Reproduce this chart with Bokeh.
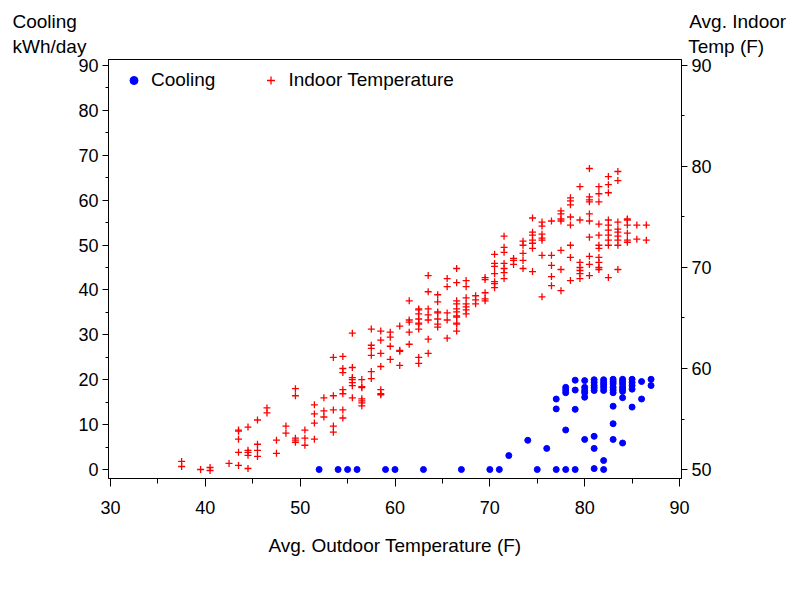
from bokeh.plotting import figure
from bokeh.models import (Range1d, LinearAxis, SingleIntervalTicker,
                          Legend, LegendItem)
from bokeh.embed import file_html
from bokeh.resources import INLINE

# ---------------- data ----------------
# Cooling (kWh/day) vs outdoor temperature (F)
cool_x = [52, 54, 55, 56, 59, 60, 63, 67, 70, 71, 75, 77, 78, 79, 81, 82,
          72, 74, 76,
          77, 77,
          78, 78, 78, 78,
          79, 79, 79,
          80, 80, 80, 80, 80, 80,
          81, 81, 81, 81, 81, 81, 81,
          82, 82, 82, 82, 82, 82,
          83, 83, 83, 83, 83, 83, 83, 83, 83,
          84, 84, 84, 84, 84, 84, 84, 84,
          85, 85, 85, 85, 85,
          86, 86,
          87, 87]
cool_kwh = [0, 0, 0, 0, 0, 0, 0, 0, 0, 0, 0, 0, 0, 0, 0.2, 0,
            3.1, 6.5, 4.7,
            15.7, 13.5,
            18.3, 17.7, 17.1, 8.8,
            19.9, 17.7, 13.4,
            19.8, 18.3, 17.6, 17.1, 16.1, 6.7,
            20.0, 19.4, 18.7, 18.2, 17.6, 7.4, 4.7,
            20.0, 19.4, 18.9, 18.3, 17.6, 2.0,
            20.1, 19.6, 19.1, 18.3, 17.7, 17.1, 14.1, 10.2, 6.7,
            20.1, 19.6, 19.1, 18.4, 17.9, 17.4, 16.0, 5.9,
            20.1, 19.4, 18.7, 17.9, 13.9,
            19.6, 15.7,
            20.1, 18.7]

# Average indoor temperature (F) vs outdoor temperature (F)
indoor_groups = {
    37.5: [50.8, 50.3],
    39.5: [50.0],
    40.5: [50.2, 49.9],
    42.5: [50.6],
    43.5: [53.9, 53.8, 53.0, 51.7, 50.4],
    44.5: [54.2, 51.9, 51.7, 51.4, 50.1],
    45.5: [54.9, 52.5, 51.9, 51.3],
    46.5: [56.1, 55.6],
    47.5: [52.9, 51.6],
    48.5: [54.3, 53.6],
    49.5: [58.0, 57.3, 53.1, 52.9, 52.7],
    50.5: [53.9, 53.1, 52.4],
    51.5: [56.4, 55.5, 54.6, 53.0],
    52.5: [57.1, 55.8, 55.2],
    53.5: [61.1, 57.3, 55.9, 54.3, 53.7],
    54.5: [61.2, 60.0, 59.6, 57.9, 57.5, 55.9, 55.1],
    55.5: [63.5, 60.1, 59.1, 58.9, 58.6, 58.3, 57.1],
    56.5: [58.9, 58.2, 58.1, 57.0, 56.8, 56.6, 56.3],
    57.5: [63.9, 62.3, 62.0, 61.3, 59.7, 59.0],
    58.5: [63.7, 62.8, 61.5, 60.2, 57.9, 57.5, 57.4],
    59.5: [63.6, 63.1, 62.2, 60.9],
    60.5: [64.2, 61.8, 61.7, 60.3],
    61.5: [66.7, 64.8, 64.6, 63.6, 62.4],
    62.5: [65.9, 65.8, 65.4, 64.9, 64.5, 64.4, 63.9, 61.1, 60.5],
    63.5: [69.2, 67.6, 65.9, 65.3, 64.8, 62.9, 61.5],
    64.5: [67.3, 66.6, 65.6, 65.5, 64.9, 64.4, 64.1],
    65.5: [68.9, 68.1, 65.5, 64.8, 63.0],
    66.5: [69.9, 68.5, 66.7, 66.4, 65.9, 65.6, 65.2, 65.1, 64.5, 64.4, 63.7],
    67.5: [68.7, 68.1, 67.0, 66.4, 66.1, 65.8, 65.4],
    68.5: [67.2, 66.8, 66.4],
    69.5: [69.0, 68.8, 67.5, 66.9, 66.7],
    70.5: [71.3, 70.4, 70.1, 69.4, 68.6, 68.4, 68.0],
    71.5: [73.1, 72.0, 71.5, 70.4, 69.9, 69.5, 68.9],
    72.5: [70.9, 70.7, 70.3],
    73.5: [72.6, 72.2, 71.4, 70.7, 69.9],
    74.5: [74.9, 73.5, 73.2, 72.7, 72.4, 71.9, 69.6],
    75.5: [74.5, 74.1, 73.3, 72.9, 72.7, 71.2, 67.1],
    76.5: [74.6, 71.2, 70.2, 69.1, 68.2],
    77.5: [75.6, 75.3, 74.8, 74.6, 71.7, 69.8, 67.7],
    78.5: [76.9, 76.6, 76.2, 75.0, 74.2, 72.2, 71.0, 68.7],
    79.5: [78.0, 74.7, 70.5, 70.0, 69.7, 69.4, 68.9],
    80.5: [79.8, 77.0, 76.7, 76.5, 75.3, 74.6, 73.0, 71.1, 70.3, 69.2],
    81.5: [78.0, 77.3, 76.5, 74.3, 73.2, 72.2, 71.9, 71.0, 70.5, 70.0, 69.8],
    82.5: [79.0, 78.2, 77.4, 74.7, 74.2, 73.7, 73.2, 72.7, 72.2, 69.0],
    83.5: [79.5, 78.6, 74.5, 73.8, 73.5, 73.1, 72.7, 72.2, 69.8],
    84.5: [74.8, 74.7, 74.2, 73.4, 72.7, 72.5],
    85.5: [74.2, 72.8],
    86.5: [74.2, 72.7],
}
indoor_x = [k for k, vals in indoor_groups.items() for _ in vals]
indoor_temp = [v for vals in indoor_groups.values() for v in vals]

x_title = "Avg. Outdoor Temperature (F)"
left_title = ["Cooling", "kWh/day"]
right_title = ["Avg. Indoor", "Temp (F)"]
legend_labels = ["Cooling", "Indoor Temperature"]

FONT = "Liberation Sans"

# ---------------- main figure ----------------
p = figure(width=788, height=596, output_backend="svg", toolbar_location=None,
           x_range=Range1d(29.79, 90.21), y_range=Range1d(-2.005, 91.34),
           min_border_left=108, min_border_right=107,
           min_border_top=59, min_border_bottom=118)
p.extra_y_ranges = {"indoor": Range1d(49.11, 90.59)}

p.xgrid.visible = False
p.ygrid.visible = False
p.outline_line_color = "black"
p.outline_line_width = 1

right_axis = LinearAxis(y_range_name="indoor")
p.add_layout(right_axis, "right")

for ax in [p.xaxis[0], p.yaxis[0], right_axis]:
    ax.ticker = SingleIntervalTicker(interval=10, num_minor_ticks=2)
    ax.axis_line_color = "black"
    ax.axis_line_width = 1
    ax.major_tick_line_color = "black"
    ax.minor_tick_line_color = "black"
    ax.major_tick_in = 0
    ax.minor_tick_in = 0
    ax.major_tick_out = 6
    ax.minor_tick_out = 3
    ax.major_label_text_font = FONT
    ax.major_label_text_font_size = "18px"
    ax.major_label_text_color = "black"
    ax.major_label_standoff = 4

xa = p.xaxis[0]
xa.major_tick_out = 8
xa.minor_tick_out = 5
xa.major_label_standoff = 14
xa.axis_label = x_title
xa.axis_label_text_font = FONT
xa.axis_label_text_font_size = "19px"
xa.axis_label_text_font_style = "normal"
xa.axis_label_text_color = "black"
xa.axis_label_standoff = 18

blue = p.scatter(cool_x, cool_kwh, marker="circle", size=6,
                 fill_color="#0000FF", line_color="#0000FF")
red = p.scatter(indoor_x, indoor_temp, marker="cross", size=7,
                line_color="#FF0000", line_width=1.3, y_range_name="indoor")

# ---------------- axis titles above the frame ----------------
# left block = cooling axis title, right block = indoor axis title,
# separated by non-breaking spaces so both sit on the same two lines
NBSP = "\u00a0"
line1 = left_title[0] + NBSP * 116 + right_title[0]
line2 = left_title[1] + NBSP * 114 + right_title[1]
p.title.text = line1 + "\n" + line2
p.title.align = "left"
p.title.offset = -96
p.title.standoff = 4
p.title.text_font = FONT
p.title.text_font_size = "19px"
p.title.text_font_style = "normal"
p.title.text_color = "black"
p.title.text_line_height = 1.2

# ---------------- legend (inside the empty upper-left of the frame) ------
legend = Legend(items=[LegendItem(label=legend_labels[0], renderers=[blue]),
                       LegendItem(label=legend_labels[1], renderers=[red])],
                orientation="horizontal", location="top_left",
                glyph_width=31, glyph_height=20, label_standoff=2,
                spacing=40, margin=10, padding=4,
                border_line_color=None, background_fill_alpha=0,
                label_text_font=FONT, label_text_font_size="19px",
                label_text_color="black")
p.add_layout(legend)

open("out.html", "w").write(file_html(p, INLINE))
